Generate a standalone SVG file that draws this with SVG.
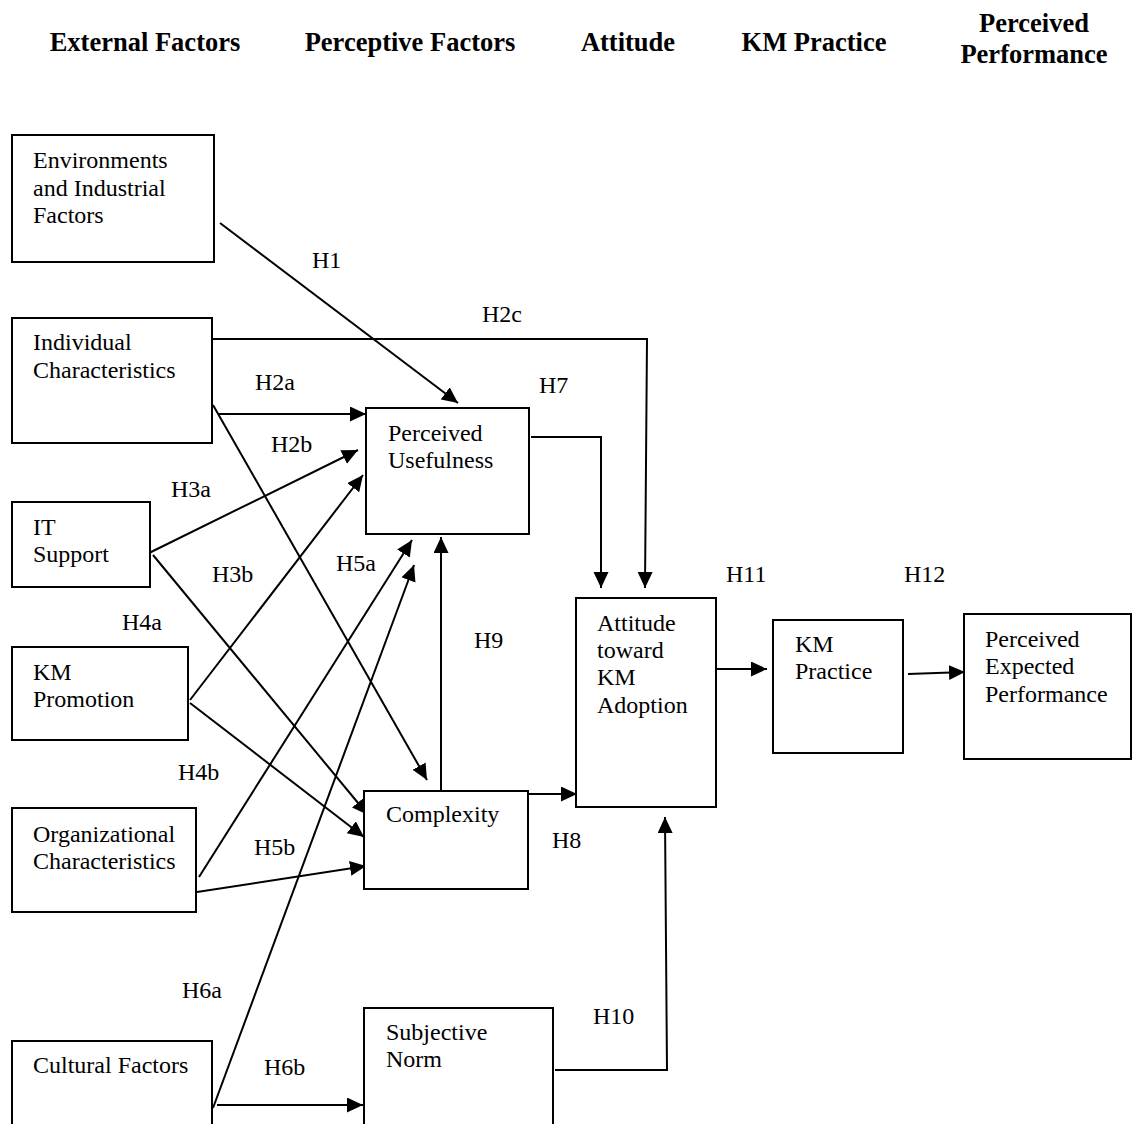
<svg xmlns="http://www.w3.org/2000/svg" width="1132" height="1124" viewBox="0 0 1132 1124">
  <style>
    .box { fill: #ffffff; stroke: #000000; stroke-width: 2; }
    .txt { font-family: "Liberation Serif", "Times New Roman", serif; font-size: 24px; fill: #000000; }
    .hdr { font-family: "Liberation Serif", "Times New Roman", serif; font-size: 26.5px; font-weight: bold; fill: #000000; text-anchor: middle; }
    .lbl { font-family: "Liberation Serif", "Times New Roman", serif; font-size: 24px; fill: #000000; }
    .link { fill: none; stroke: #000000; stroke-width: 2; }
    .arrow { marker-end: url(#head); }
  </style>
  <defs>
    <marker id="head" markerUnits="userSpaceOnUse" markerWidth="17" markerHeight="16" refX="16" refY="7.5" orient="auto">
      <path d="M0,0 L16,7.5 L0,15 Z" fill="#000000"/>
    </marker>
  </defs>
  <rect width="1132" height="1124" fill="#ffffff"/>

  <!-- column headings -->
  <g id="headings">
    <text class="hdr" x="145" y="51">External Factors</text>
    <text class="hdr" x="410" y="51">Perceptive Factors</text>
    <text class="hdr" x="628" y="51">Attitude</text>
    <text class="hdr" x="814" y="51">KM Practice</text>
    <text class="hdr" x="1034" y="32">Perceived</text>
    <text class="hdr" x="1034" y="63">Performance</text>
  </g>

  <!-- connectors -->
  <g id="connectors">
    <line class="link arrow" x1="220" y1="223" x2="458" y2="403"/>
    <polyline class="link arrow" points="212,339 647,339 645,588"/>
    <line class="link arrow" x1="218" y1="414" x2="366" y2="414"/>
    <line class="link arrow" x1="213" y1="405" x2="427" y2="780"/>
    <line class="link arrow" x1="147" y1="554" x2="358" y2="450"/>
    <line class="link arrow" x1="153" y1="555" x2="368" y2="815"/>
    <line class="link arrow" x1="190" y1="700" x2="363" y2="475"/>
    <line class="link arrow" x1="190" y1="703" x2="364" y2="837"/>
    <line class="link arrow" x1="199" y1="877" x2="412" y2="540"/>
    <line class="link arrow" x1="197" y1="892" x2="366" y2="866"/>
    <line class="link arrow" x1="213" y1="1108" x2="414" y2="565"/>
    <line class="link arrow" x1="217" y1="1105" x2="363" y2="1105"/>
    <polyline class="link arrow" points="531,437 601,437 601,588"/>
    <line class="link arrow" x1="441" y1="791" x2="441" y2="537"/>
    <line class="link arrow" x1="529" y1="794" x2="577" y2="794"/>
    <polyline class="link arrow" points="555,1070 667,1070 665,817"/>
    <line class="link arrow" x1="717" y1="669" x2="767" y2="669"/>
    <line class="link arrow" x1="908" y1="674" x2="965" y2="672"/>
  </g>

  <!-- hypothesis labels -->
  <g id="labels">
    <text class="lbl" x="312" y="268">H1</text>
    <text class="lbl" x="482" y="322">H2c</text>
    <text class="lbl" x="255" y="390">H2a</text>
    <text class="lbl" x="539" y="393">H7</text>
    <text class="lbl" x="271" y="452">H2b</text>
    <text class="lbl" x="171" y="497">H3a</text>
    <text class="lbl" x="212" y="582">H3b</text>
    <text class="lbl" x="336" y="571">H5a</text>
    <text class="lbl" x="122" y="630">H4a</text>
    <text class="lbl" x="474" y="648">H9</text>
    <text class="lbl" x="726" y="582">H11</text>
    <text class="lbl" x="904" y="582">H12</text>
    <text class="lbl" x="178" y="780">H4b</text>
    <text class="lbl" x="254" y="855">H5b</text>
    <text class="lbl" x="552" y="848">H8</text>
    <text class="lbl" x="182" y="998">H6a</text>
    <text class="lbl" x="593" y="1024">H10</text>
    <text class="lbl" x="264" y="1075">H6b</text>
  </g>

  <!-- external factors -->
  <g id="environments">
    <rect class="box" x="12" y="135" width="202" height="127"/>
    <text class="txt" x="33" y="168">Environments</text>
    <text class="txt" x="33" y="196">and Industrial</text>
    <text class="txt" x="33" y="223">Factors</text>
  </g>
  <g id="individual">
    <rect class="box" x="12" y="318" width="200" height="125"/>
    <text class="txt" x="33" y="350">Individual</text>
    <text class="txt" x="33" y="378">Characteristics</text>
  </g>
  <g id="it-support">
    <rect class="box" x="12" y="502" width="138" height="85"/>
    <text class="txt" x="33" y="535">IT</text>
    <text class="txt" x="33" y="562">Support</text>
  </g>
  <g id="km-promotion">
    <rect class="box" x="12" y="647" width="176" height="93"/>
    <text class="txt" x="33" y="680">KM</text>
    <text class="txt" x="33" y="707">Promotion</text>
  </g>
  <g id="organizational">
    <rect class="box" x="12" y="808" width="184" height="104"/>
    <text class="txt" x="33" y="842">Organizational</text>
    <text class="txt" x="33" y="869">Characteristics</text>
  </g>
  <g id="cultural">
    <rect class="box" x="12" y="1041" width="200" height="100"/>
    <text class="txt" x="33" y="1073">Cultural Factors</text>
  </g>

  <!-- perceptive factors -->
  <g id="usefulness">
    <rect class="box" x="366" y="408" width="163" height="126"/>
    <text class="txt" x="388" y="441">Perceived</text>
    <text class="txt" x="388" y="468">Usefulness</text>
  </g>
  <g id="complexity">
    <rect class="box" x="364" y="791" width="164" height="98"/>
    <text class="txt" x="386" y="822">Complexity</text>
  </g>
  <g id="subjective-norm">
    <rect class="box" x="364" y="1008" width="189" height="130"/>
    <text class="txt" x="386" y="1040">Subjective</text>
    <text class="txt" x="386" y="1067">Norm</text>
  </g>

  <!-- attitude, practice, performance -->
  <g id="attitude">
    <rect class="box" x="576" y="598" width="140" height="209"/>
    <text class="txt" x="597" y="631">Attitude</text>
    <text class="txt" x="597" y="658">toward</text>
    <text class="txt" x="597" y="685">KM</text>
    <text class="txt" x="597" y="713">Adoption</text>
  </g>
  <g id="km-practice">
    <rect class="box" x="773" y="620" width="130" height="133"/>
    <text class="txt" x="795" y="652">KM</text>
    <text class="txt" x="795" y="679">Practice</text>
  </g>
  <g id="expected-performance">
    <rect class="box" x="964" y="614" width="167" height="145"/>
    <text class="txt" x="985" y="647">Perceived</text>
    <text class="txt" x="985" y="674">Expected</text>
    <text class="txt" x="985" y="702">Performance</text>
  </g>
</svg>
